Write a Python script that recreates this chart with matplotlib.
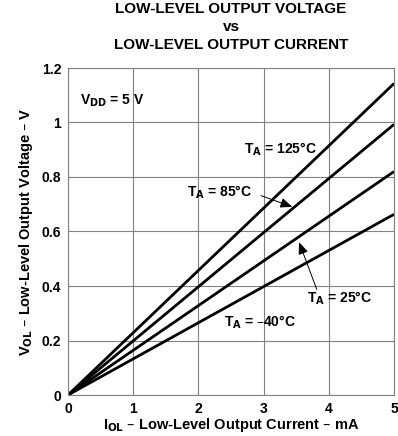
import numpy as np
import matplotlib.pyplot as plt

plt.rcParams['font.family'] = ['Liberation Sans', 'DejaVu Sans']
plt.rcParams['font.weight'] = 'bold'
plt.rcParams['mathtext.default'] = 'bf'

# output current (mA) and output voltage (V)
i_ol = [0, 5]
v_125 = [0, 1.143]
v_85 = [0, 0.993]
v_25 = [0, 0.82]
v_m40 = [0, 0.663]

x_ticks = [0, 1, 2, 3, 4, 5]
y_ticks = [0, 0.2, 0.4, 0.6, 0.8, 1.0, 1.2]
y_labels = ['0', '0.2', '0.4', '0.6', '0.8', '1', '1.2']

fig = plt.figure(figsize=(3.98, 4.36), dpi=100)
ax = fig.add_axes([68/398, 41/436, 326/398, 327/436])

for v in [v_125, v_85, v_25, v_m40]:
    ax.plot(i_ol, v, color='black', lw=2, solid_capstyle='butt')

ax.set_xlim(0, 5)
ax.set_ylim(0, 1.2)
ax.set_xticks(x_ticks)
ax.set_yticks(y_ticks)
ax.set_yticklabels(y_labels)
ax.tick_params(length=0, labelsize=10, pad=5)
for lbl in ax.get_xticklabels() + ax.get_yticklabels():
    lbl.set_fontweight('bold')
ax.grid(True, color='#808080', lw=0.8)
for s in ax.spines.values():
    s.set_color('#808080')
    s.set_linewidth(0.8)

ax.set_xlabel(r'I$_{OL}$ – Low-Level Output Current – mA',
              fontsize=10.5, fontweight='bold', labelpad=0)
ax.set_ylabel(r'V$_{OL}$ – Low-Level Output Voltage – V',
              fontsize=10.5, fontweight='bold', labelpad=5)

fig.text(231/398, 1 - 9/436, 'LOW-LEVEL OUTPUT VOLTAGE', ha='center', va='center',
         fontsize=11, fontweight='bold')
fig.text(231/398, 1 - 27/436, 'vs', ha='center', va='center',
         fontsize=11, fontweight='bold')
fig.text(231/398, 1 - 45/436, 'LOW-LEVEL OUTPUT CURRENT', ha='center', va='center',
         fontsize=11, fontweight='bold')

tk = dict(fontsize=10, fontweight='bold', va='center')
ax.text(0.19, 1.08, r'V$_{DD}$ = 5 V', **tk)
ax.text(2.7, 0.9, r'T$_{A}$ = 125°C', **tk)
ax.text(1.82, 0.745, r'T$_{A}$ = 85°C', **tk)
ax.text(3.66, 0.355, r'T$_{A}$ = 25°C', **tk)
ax.text(2.4, 0.265, r'T$_{A}$ = –40°C', **tk)

# pointer arrows with filled heads
arrow = dict(arrowstyle='-|>,head_length=0.6,head_width=0.25', color='black',
             lw=0.7, mutation_scale=12)
ax.annotate('', xy=(3.48, 0.687), xytext=(2.92, 0.735), arrowprops=arrow)
ax.annotate('', xy=(3.53, 0.57), xytext=(3.83, 0.378), arrowprops=arrow)

fig.savefig('out.png', dpi=100)
